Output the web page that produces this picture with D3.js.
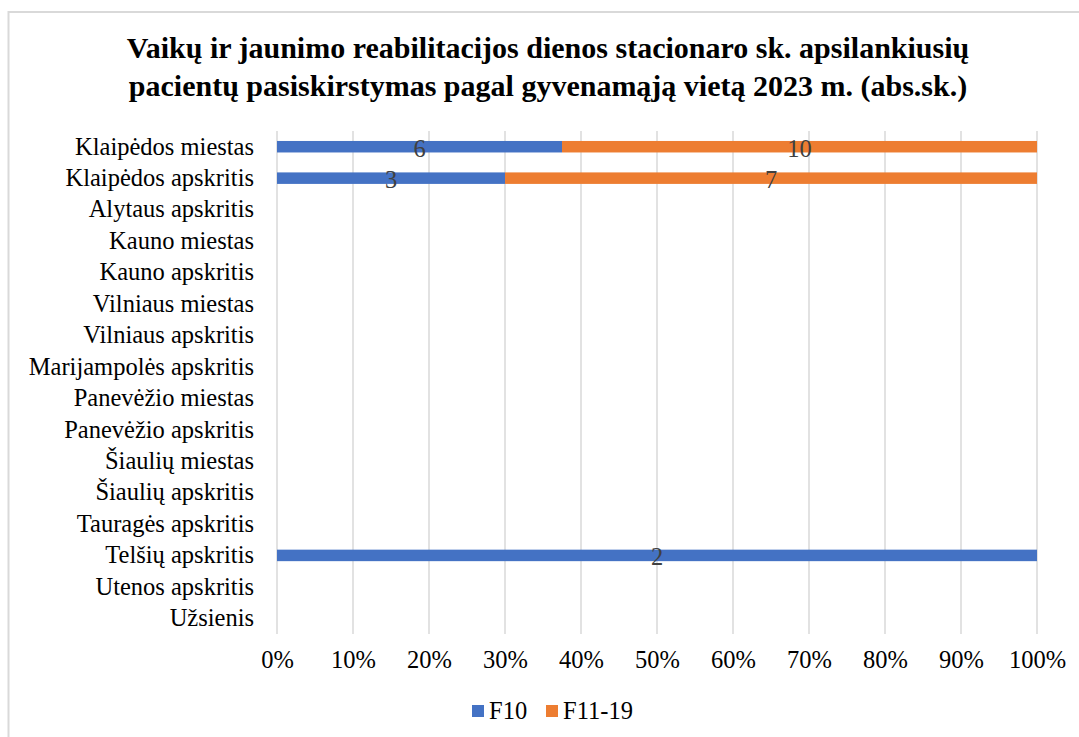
<!DOCTYPE html>
<html>
<head>
<meta charset="utf-8">
<script src="https://cdn.jsdelivr.net/npm/d3@7"></script>
<style>
  body { margin: 0; background: #fff; }
  text { font-family: "Liberation Serif", "Times New Roman", serif; }
</style>
</head>
<body>
<div class="canvas"></div>
<script>
const categories = [
  'Klaipėdos miestas', 'Klaipėdos apskritis', 'Alytaus apskritis', 'Kauno miestas',
  'Kauno apskritis', 'Vilniaus miestas', 'Vilniaus apskritis', 'Marijampolės apskritis',
  'Panevėžio miestas', 'Panevėžio apskritis', 'Šiaulių miestas', 'Šiaulių apskritis',
  'Tauragės apskritis', 'Telšių apskritis', 'Utenos apskritis', 'Užsienis'
];
const f10 = [6, 3, 0, 0, 0, 0, 0, 0, 0, 0, 0, 0, 0, 2, 0, 0];
const f1119 = [10, 7, 0, 0, 0, 0, 0, 0, 0, 0, 0, 0, 0, 0, 0, 0];
const seriesNames = ['F10', 'F11-19'];
const colors = ['#4472C4', '#ED7D31'];
const tickValues = [0, 0.1, 0.2, 0.3, 0.4, 0.5, 0.6, 0.7, 0.8, 0.9, 1];
const titleLines = [
  'Vaikų ir jaunimo reabilitacijos dienos stacionaro sk. apsilankiusių',
  'pacientų pasiskirstymas pagal gyvenamąją vietą 2023 m. (abs.sk.)'
];

const W = 1079, H = 737;
const margin = { top: 131, right: 42, bottom: 103, left: 277 };
const graphWidth = W - margin.left - margin.right;
const graphHeight = H - margin.top - margin.bottom;
const fs = '24.5px';

const svg = d3.select('.canvas')
  .append('svg')
  .attr('width', W)
  .attr('height', H);

// chart frame
svg.append('rect')
  .attr('x', 8.5).attr('y', 12)
  .attr('width', 1100).attr('height', 800)
  .attr('fill', 'none')
  .attr('stroke', '#d9d9d9')
  .attr('stroke-width', 2);

svg.selectAll('.title')
  .data(titleLines)
  .enter()
  .append('text')
  .attr('class', 'title')
  .attr('x', 548)
  .attr('y', (d, i) => 58 + i * 38)
  .attr('text-anchor', 'middle')
  .style('font-weight', 'bold')
  .style('font-size', '30px')
  .attr('fill', '#000')
  .text(d => d);

const graph = svg.append('g')
  .attr('transform', `translate(${margin.left}, ${margin.top})`);

const x = d3.scaleLinear().domain([0, 1]).range([0, graphWidth]);
const y = d3.scaleBand().domain(categories).range([0, graphHeight]);

// gridlines
graph.selectAll('.grid')
  .data(tickValues)
  .enter()
  .append('line')
  .attr('x1', d => x(d)).attr('x2', d => x(d))
  .attr('y1', 0).attr('y2', graphHeight)
  .attr('stroke', '#d9d9d9')
  .attr('stroke-width', 1.5);

// stacked data in shares
const rows = categories.map((c, i) => {
  const total = f10[i] + f1119[i];
  return { cat: c, vals: [f10[i], f1119[i]], total: total };
});

const barH = 11.5;
rows.forEach(r => {
  if (r.total === 0) return;
  let acc = 0;
  r.vals.forEach((v, s) => {
    if (v === 0) return;
    const x0 = acc / r.total, x1 = (acc + v) / r.total;
    acc += v;
    const yc = y(r.cat) + y.bandwidth() / 2;
    graph.append('rect')
      .attr('x', x(x0))
      .attr('y', yc - barH / 2)
      .attr('width', x(x1) - x(x0))
      .attr('height', barH)
      .attr('fill', colors[s]);
    graph.append('text')
      .attr('x', (x(x0) + x(x1)) / 2)
      .attr('y', yc + 10)
      .attr('text-anchor', 'middle')
      .style('font-size', fs)
      .attr('fill', '#404040')
      .text(v);
  });
});

// axes
const yAxis = d3.axisLeft(y).tickSize(0).tickPadding(23);
const yAxisGroup = graph.append('g').call(yAxis);
yAxisGroup.select('.domain').remove();
yAxisGroup.selectAll('text')
  .style('font-size', fs)
  .attr('fill', '#000')
  .attr('font-family', '"Liberation Serif", serif')
  .attr('dy', '0.32em');

const xAxis = d3.axisBottom(x).tickValues(tickValues).tickSize(0).tickPadding(17)
  .tickFormat(d3.format('.0%'));
const xAxisGroup = graph.append('g')
  .attr('transform', `translate(0, ${graphHeight})`)
  .call(xAxis);
xAxisGroup.select('.domain').remove();
xAxisGroup.selectAll('text')
  .style('font-size', fs)
  .attr('fill', '#000')
  .attr('font-family', '"Liberation Serif", serif');

// legend
const legend = svg.append('g').attr('transform', 'translate(472, 705)');
const legendX = [0, 74];
seriesNames.forEach((n, i) => {
  legend.append('rect')
    .attr('x', legendX[i]).attr('y', 0)
    .attr('width', 12).attr('height', 12)
    .attr('fill', colors[i]);
  legend.append('text')
    .attr('x', legendX[i] + 17).attr('y', 14)
    .style('font-size', fs)
    .attr('fill', '#000')
    .text(n);
});
</script>
</body>
</html>
